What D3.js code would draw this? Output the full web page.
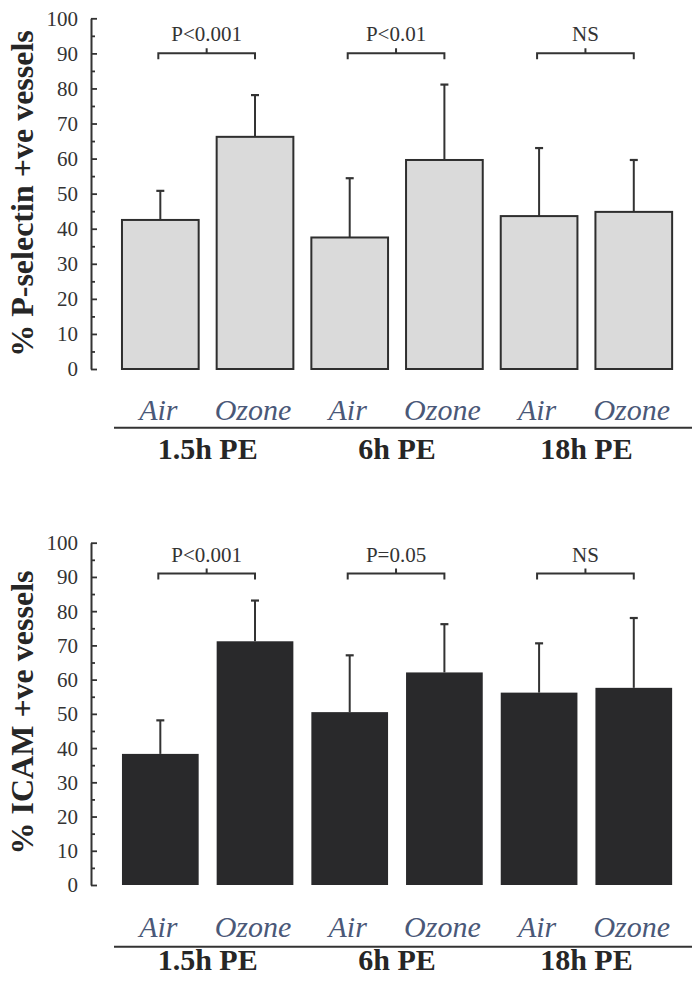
<!DOCTYPE html>
<html>
<head>
<meta charset="utf-8">
<script src="https://cdn.jsdelivr.net/npm/d3@7"></script>
<style>
  body { margin: 0; background: #fff; }
  svg { display: block; }
  text { font-family: "Liberation Serif", "Times New Roman", serif; }
</style>
</head>
<body>
<div id="chart"></div>
<script>
// bars: Air / Ozone at three time points post exposure
var bars = ["Air 1.5h", "Ozone 1.5h", "Air 6h", "Ozone 6h", "Air 18h", "Ozone 18h"];
var barLabels = ["Air", "Ozone", "Air", "Ozone", "Air", "Ozone"];
var groups = ["1.5h PE", "6h PE", "18h PE"];

var pselMean = [42.5, 66.2, 37.5, 59.6, 43.6, 44.8];
var pselTop  = [50.8, 78.1, 54.4, 81.1, 63.0, 59.6];
var pselP    = ["P<0.001", "P<0.01", "NS"];

var icamMean = [38.3, 71.2, 50.5, 62.1, 56.2, 57.6];
var icamTop  = [48.1, 83.1, 67.1, 76.2, 70.6, 78.0];
var icamP    = ["P<0.001", "P=0.05", "NS"];

var majorTicks = [0, 10, 20, 30, 40, 50, 60, 70, 80, 90, 100];
var minorTicks = [5, 15, 25, 35, 45, 55, 65, 75, 85, 95];

var W = 699, H = 987;
var ink = "#333";
var serif = "'Liberation Serif', 'Times New Roman', serif";

var svg = d3.select("#chart").append("svg")
    .attr("width", W)
    .attr("height", H);

var x = d3.scaleBand()
    .domain(bars)
    .range([112.5, 681.6])
    .paddingInner(0.19)
    .paddingOuter(0.1);

function drawPanel(opt) {
    var g = svg.append("g");

    var y = d3.scaleLinear()
        .domain([0, 100])
        .range([opt.y0, opt.y100]);

    // minor ticks
    g.append("g")
        .attr("transform", "translate(91,0)")
        .call(d3.axisLeft(y).tickValues(minorTicks).tickSize(-4).tickSizeOuter(0).tickFormat(""))
        .call(function (a) { a.select(".domain").remove(); })
        .selectAll("line").attr("stroke", ink).attr("stroke-width", 1.8);

    var yAxis = g.append("g")
        .attr("transform", "translate(91,0)")
        .call(d3.axisLeft(y).tickValues(majorTicks).tickSizeInner(-6).tickSizeOuter(0).tickPadding(13));
    yAxis.attr("font-family", serif).attr("font-size", 21);
    yAxis.select(".domain").attr("stroke", ink).attr("stroke-width", 2);
    yAxis.selectAll("line").attr("stroke", ink).attr("stroke-width", 1.8);
    yAxis.selectAll("text")
        .attr("fill", ink)
        .style("font-family", serif)
        .style("font-size", "21px")
        .attr("dy", "0.33em");

    // y label
    g.append("text")
        .attr("transform", "translate(33," + opt.labelY + ") rotate(-90)")
        .attr("text-anchor", "middle")
        .attr("fill", "#262626")
        .style("font-size", "32px")
        .style("font-weight", "bold")
        .text(opt.title);

    // error bars (upper only)
    var err = g.selectAll(".err").data(bars).enter().append("g").attr("class", "err");
    err.append("line")
        .attr("x1", function (d) { return x(d) + x.bandwidth() / 2; })
        .attr("x2", function (d) { return x(d) + x.bandwidth() / 2; })
        .attr("y1", function (d, i) { return y(opt.mean[i]); })
        .attr("y2", function (d, i) { return y(opt.top[i]); })
        .attr("stroke", ink).attr("stroke-width", 2);
    err.append("line")
        .attr("x1", function (d) { return x(d) + x.bandwidth() / 2 - 4; })
        .attr("x2", function (d) { return x(d) + x.bandwidth() / 2 + 4; })
        .attr("y1", function (d, i) { return y(opt.top[i]); })
        .attr("y2", function (d, i) { return y(opt.top[i]); })
        .attr("stroke", ink).attr("stroke-width", 2.2);

    // bars
    g.selectAll(".bar").data(bars).enter().append("rect")
        .attr("x", function (d) { return x(d); })
        .attr("y", function (d, i) { return y(opt.mean[i]); })
        .attr("width", x.bandwidth())
        .attr("height", function (d, i) { return y(0) - y(opt.mean[i]); })
        .attr("fill", opt.fill)
        .attr("stroke", opt.stroke)
        .attr("stroke-width", opt.stroke === "none" ? 0 : 2);

    // significance brackets
    var by = y(opt.bracket);
    groups.forEach(function (grp, k) {
        var a = x(bars[2 * k]) + x.bandwidth() / 2 - 2;
        var b = x(bars[2 * k + 1]) + x.bandwidth() / 2;
        var m = (a + b) / 2;
        g.append("path")
            .attr("d", "M" + a + "," + (by + 6) + "V" + by + "H" + b + "V" + (by + 6) +
                       "M" + m + "," + by + "V" + (by - 5))
            .attr("fill", "none")
            .attr("stroke", ink)
            .attr("stroke-width", 2);
        g.append("text")
            .attr("x", m)
            .attr("y", by - 12)
            .attr("text-anchor", "middle")
            .attr("fill", ink)
            .style("font-size", "21px")
            .text(opt.p[k]);
    });

    // category labels
    g.selectAll(".cat").data(bars).enter().append("text")
        .attr("x", function (d) { return x(d) + x.bandwidth() / 2 - 2; })
        .attr("y", opt.y0 + opt.catOff)
        .attr("text-anchor", "middle")
        .attr("fill", "#4a5878")
        .style("font-size", "30px")
        .style("font-style", "italic")
        .text(function (d, i) { return barLabels[i]; });

    g.append("line")
        .attr("x1", 114).attr("x2", 692)
        .attr("y1", opt.y0 + opt.lineOff).attr("y2", opt.y0 + opt.lineOff)
        .attr("stroke", ink).attr("stroke-width", 2);

    groups.forEach(function (grp, k) {
        var c = (x(bars[2 * k]) + x(bars[2 * k + 1]) + x.bandwidth()) / 2;
        g.append("text")
            .attr("x", c)
            .attr("y", opt.y0 + opt.groupOff)
            .attr("text-anchor", "middle")
            .attr("fill", "#262626")
            .style("font-size", "30px")
            .style("font-weight", "bold")
            .text(grp);
    });
}

drawPanel({
    y0: 369, y100: 18.3, labelY: 193.5,
    title: "% P-selectin +ve vessels",
    mean: pselMean, top: pselTop, p: pselP, bracket: 90,
    fill: "#dadada", stroke: "#2e2e2e",
    catOff: 51, lineOff: 58.7, groupOff: 90.3
});

drawPanel({
    y0: 885, y100: 542.7, labelY: 712.5,
    title: "% ICAM +ve vessels",
    mean: icamMean, top: icamTop, p: icamP, bracket: 91,
    fill: "#29292b", stroke: "none",
    catOff: 52, lineOff: 61.7, groupOff: 85
});
</script>
</body>
</html>
